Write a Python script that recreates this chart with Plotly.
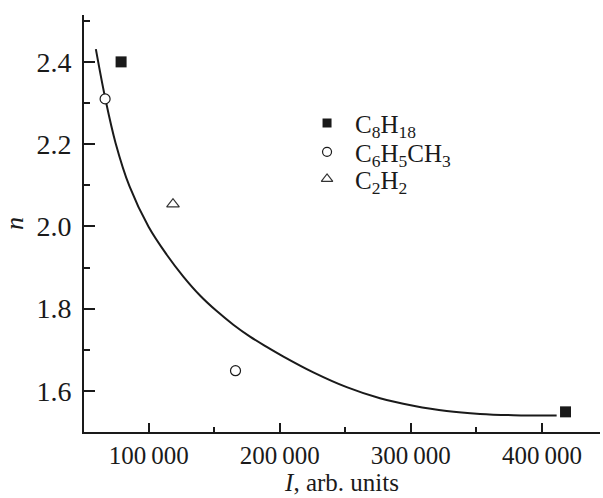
import plotly.graph_objects as go

# Data
c8h18_x = [78900, 418000]
c8h18_y = [2.40, 1.549]
c6h5ch3_x = [66700, 166200]
c6h5ch3_y = [2.310, 1.649]
c2h2_x = [118500]
c2h2_y = [2.054]

# Fitted curve, points
curve_x = [59650, 66895, 74675, 85355, 99850, 113730, 126390, 139130, 151870, 164530,
           177270, 190010, 202440, 225560, 251040, 276440, 301840, 327320,
           352720, 378120, 411220]
curve_y = [2.431, 2.310, 2.203, 2.097, 1.999, 1.931, 1.878, 1.832, 1.794, 1.761,
           1.732, 1.707, 1.684, 1.645, 1.609, 1.582, 1.564, 1.551,
           1.544, 1.541, 1.540]

x_tickvals = [100000, 200000, 300000, 400000]
x_ticktext = ["100\u2009000", "200\u2009000", "300\u2009000", "400\u2009000"]
y_tickvals = [1.6, 1.8, 2.0, 2.2, 2.4]
y_ticktext = ["1.6", "1.8", "2.0", "2.2", "2.4"]

legend_names = ["C<sub>8</sub>H<sub>18</sub>",
                "C<sub>6</sub>H<sub>5</sub>CH<sub>3</sub>",
                "C<sub>2</sub>H<sub>2</sub>"]

FONT = "Liberation Serif"
INK = "#1a1a1a"

sq_marker = dict(symbol="square", color=INK, line=dict(width=0))
ci_marker = dict(symbol="circle", color="white", line=dict(width=1.2, color=INK))
tr_marker = dict(symbol="triangle-up-open", color="#333", line=dict(width=1.2))

fig = go.Figure()
fig.add_trace(go.Scatter(x=curve_x, y=curve_y, mode="lines",
                         line=dict(color=INK, width=2, shape="spline", smoothing=1.0),
                         showlegend=False, hoverinfo="skip"))
fig.add_trace(go.Scatter(x=c8h18_x, y=c8h18_y, mode="markers", name=legend_names[0],
                         marker=dict(size=11, **sq_marker), showlegend=False))
fig.add_trace(go.Scatter(x=c6h5ch3_x, y=c6h5ch3_y, mode="markers", name=legend_names[1],
                         marker=dict(size=10, **ci_marker), showlegend=False))
fig.add_trace(go.Scatter(x=c2h2_x, y=c2h2_y, mode="markers", name=legend_names[2],
                         marker=dict(size=11, **tr_marker), showlegend=False))

# Hand-made legend (keys on an overlay axis spanning the plot area)
leg_key_x = 0.471
leg_text_x = 0.521
leg_rows = [0.741, 0.672, 0.607]
for mk, sz, row, name in zip([sq_marker, ci_marker, tr_marker], [9, 9, 10],
                             leg_rows, legend_names):
    fig.add_trace(go.Scatter(x=[leg_key_x], y=[row], mode="markers",
                             marker=dict(size=sz, **mk), xaxis="x2", yaxis="y2",
                             showlegend=False, hoverinfo="skip"))
    fig.add_annotation(x=leg_text_x, y=row - 0.008, xref="paper", yref="paper",
                       text=name, showarrow=False, xanchor="left", yanchor="middle",
                       font=dict(family=FONT, size=25, color=INK))

fig.update_layout(
    width=603, height=498,
    margin=dict(l=84, r=3, t=15, b=66),
    paper_bgcolor="white", plot_bgcolor="white",
    font=dict(family=FONT, size=26, color=INK),
    showlegend=False,
    xaxis=dict(range=[50600, 444300], showgrid=False, zeroline=False,
               showline=True, linecolor=INK, linewidth=2,
               ticks="inside", ticklen=9, tickwidth=1.5, tickcolor=INK,
               tickvals=x_tickvals, ticktext=x_ticktext,
               tickfont=dict(size=25),
               ticklabelstandoff=0,
               minor=dict(ticks="inside", ticklen=5, tickwidth=1.5, tickcolor=INK,
                          dtick=50000, tick0=0, showgrid=False),
               title=dict(text="<i>I</i>, arb. units", standoff=3,
                          font=dict(size=25))),
    yaxis=dict(range=[1.5, 2.514], showgrid=False, zeroline=False,
               showline=True, linecolor=INK, linewidth=2,
               ticks="inside", ticklen=11, tickwidth=1.5, tickcolor=INK,
               tickvals=y_tickvals, ticktext=y_ticktext,
               tickfont=dict(size=28),
               ticklabelstandoff=5,
               minor=dict(ticks="inside", ticklen=6, tickwidth=1.5, tickcolor=INK,
                          dtick=0.1, tick0=1.5, showgrid=False),
               title=dict(text="<i>n</i>", standoff=6, font=dict(size=26))),
    xaxis2=dict(overlaying="x", range=[0, 1], visible=False, fixedrange=True),
    yaxis2=dict(overlaying="y", range=[0, 1], visible=False, fixedrange=True),
)

fig.write_html("out.html")
